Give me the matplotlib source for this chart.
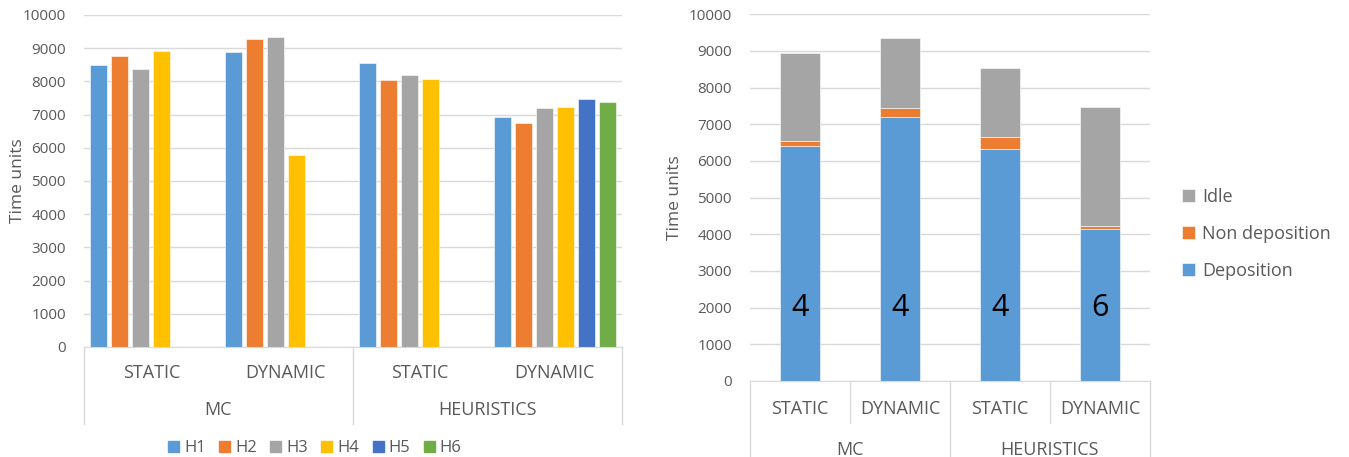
import numpy as np
import matplotlib
matplotlib.use("Agg")
import matplotlib.pyplot as plt
from matplotlib.patches import Patch
from matplotlib.lines import Line2D

plt.rcParams['font.family'] = ['Open Sans', 'DejaVu Sans']

# clustered chart: makespan per heuristic
groups = ["MC", "HEURISTICS"]
modes = ["STATIC", "DYNAMIC", "STATIC", "DYNAMIC"]
heuristics = ["H1", "H2", "H3", "H4", "H5", "H6"]
nan = np.nan
h1 = [8480, 8880, 8540, 6940]
h2 = [8780, 9270, 8050, 6760]
h3 = [8370, 9350, 8190, 7200]
h4 = [8920, 5780, 8080, 7240]
h5 = [nan, nan, nan, 7470]
h6 = [nan, nan, nan, 7380]
series = [h1, h2, h3, h4, h5, h6]

# stacked chart: time breakdown of the best run
deposition = [6410, 7210, 6320, 4150]
non_deposition = [135, 245, 345, 85]
idle = [2390, 1890, 1860, 3235]
bar_labels = ["4", "4", "4", "6"]

colors = ["#5B9BD5", "#ED7D31", "#A5A5A5", "#FFC000", "#4472C4", "#70AD47"]
txt = "#595959"
grid = "#D9D9D9"

W, H = 1349, 457
fig = plt.figure(figsize=(W / 100, H / 100), dpi=100)


def px(x0, y0, x1, y1):
    return [x0 / W, 1 - y1 / H, (x1 - x0) / W, (y1 - y0) / H]


def style(ax):
    ax.set_ylim(0, 10000)
    ax.set_yticks(np.arange(0, 10001, 1000))
    ax.yaxis.grid(True, color=grid, lw=1)
    ax.set_axisbelow(True)
    for s in ["top", "right", "left"]:
        ax.spines[s].set_visible(False)
    ax.spines["bottom"].set_color(grid)
    ax.tick_params(axis="y", length=0, labelsize=11, labelcolor=txt, pad=13)
    ax.tick_params(axis="x", length=0, labelbottom=False)
    ax.set_ylabel("Time units", color=txt, fontsize=12.5)


def vline(ax, x, y0, y1):
    # y in pixels below the axes bottom
    bb = ax.get_position()
    yb = (1 - bb.y0) * H
    tr = ax.get_xaxis_transform()
    fy0 = -(y0 - yb) / (bb.height * H)
    fy1 = -(y1 - yb) / (bb.height * H)
    ax.add_line(Line2D([x, x], [fy0, fy1], transform=tr, color=grid, lw=1, clip_on=False))


def label(ax, x, ypix, s, size):
    bb = ax.get_position()
    yb = (1 - bb.y0) * H
    fy = -(ypix - yb) / (bb.height * H)
    ax.text(x, fy, s, transform=ax.get_xaxis_transform(), ha="center", va="center",
            color=txt, fontsize=size, clip_on=False)


# left: clustered bars
ax1 = fig.add_axes(px(84, 15, 622, 347))
style(ax1)
ax1.set_xlim(0, 4)
ax1.yaxis.set_label_coords(-0.108, 0.5)
margin, step, bw = 6 / 134.5, 21 / 134.5, 17 / 134.5
x = np.arange(4)
for j, vals in enumerate(series):
    ax1.bar(x + margin + j * step + bw / 2, vals, width=bw, color=colors[j],
            edgecolor="white", linewidth=0.4)
for i, m in enumerate(modes):
    label(ax1, i + 0.5, 373, m, 13)
for g, name in enumerate(groups):
    label(ax1, 2 * g + 1, 410, name, 13)
for xv in [0, 2, 4]:
    vline(ax1, xv, 347, 424)

handles = [Patch(color=c) for c in colors]
fig.legend(handles, heuristics, loc="center", bbox_to_anchor=(315 / W, 1 - 448 / H),
           ncol=6, frameon=False, handlelength=0.66, handleheight=0.66,
           handletextpad=0.3, columnspacing=0.8, labelcolor=txt, fontsize=12)

# right: stacked bars
ax2 = fig.add_axes(px(750, 14.3, 1150, 381))
style(ax2)
ax2.set_xlim(-0.5, 3.5)
ax2.yaxis.set_label_coords(-0.168, 0.5)
xs = np.arange(4)
dep = np.array(deposition)
non = np.array(non_deposition)
b1 = ax2.bar(xs, dep, width=0.4, color=colors[0], edgecolor="white", linewidth=0.4)
b2 = ax2.bar(xs, non, width=0.4, bottom=dep, color=colors[1], edgecolor="white", linewidth=0.4)
b3 = ax2.bar(xs, idle, width=0.4, bottom=dep + non, color=colors[2], edgecolor="white", linewidth=0.4)
for xi, s in zip(xs, bar_labels):
    ax2.text(xi, 2000, s, ha="center", va="center", fontsize=22, color="black")
for i, m in enumerate(modes):
    label(ax2, i, 409, m, 13)
for g, name in enumerate(groups):
    label(ax2, 2 * g + 0.5, 450, name, 13)
for xv in [0.5, 2.5]:
    vline(ax2, xv, 381, 423)
for xv in [-0.5, 1.5, 3.5]:
    vline(ax2, xv, 381, 470)

fig.legend([b3, b2, b1], ["Idle", "Non deposition", "Deposition"], loc="center left",
           bbox_to_anchor=(1166 / W, 1 - 234 / H), frameon=False, handlelength=0.7,
           handleheight=0.7, handletextpad=0.4, labelspacing=1.05, labelcolor=txt,
           fontsize=13)

fig.savefig("out.png", dpi=100)
